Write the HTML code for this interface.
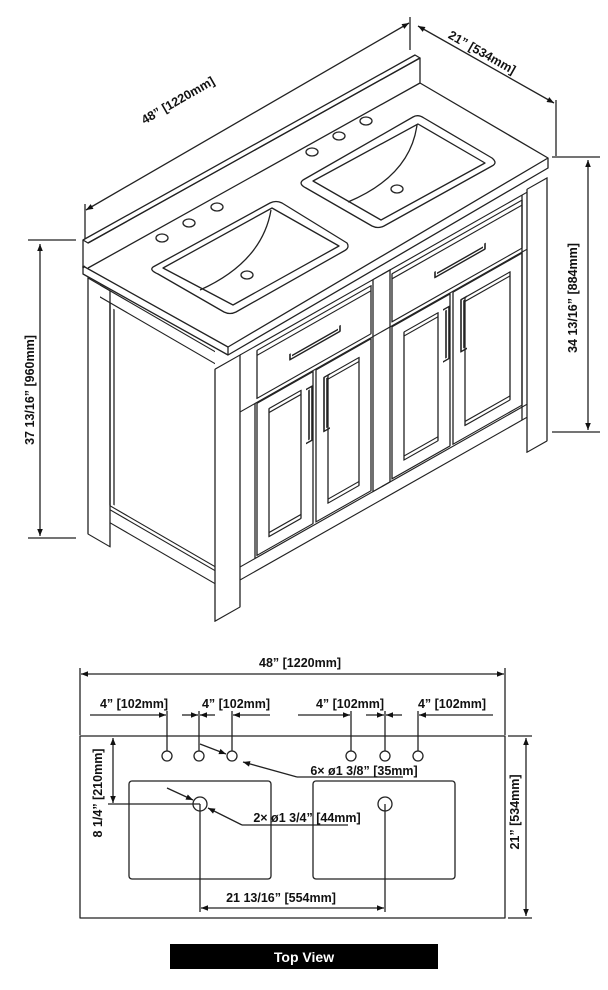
<!DOCTYPE html>
<html><head><meta charset="utf-8"><style>
html,body{margin:0;padding:0;background:#fff;}
svg{display:block;}
text{font-family:"Liberation Sans",sans-serif;font-weight:bold;fill:#111;}
</style></head><body>
<svg width="608" height="990" viewBox="0 0 608 990" xmlns="http://www.w3.org/2000/svg">
<defs>
<marker id="a" viewBox="0 0 10 10" refX="10" refY="5" markerWidth="9" markerHeight="7" orient="auto-start-reverse" markerUnits="userSpaceOnUse"><path d="M0,1 L10,5 L0,9 z" fill="#111"/></marker>
</defs>
<g fill="none" stroke="#222" stroke-width="1.3" stroke-linejoin="round">
<line x1="86" y1="210" x2="409" y2="23" marker-start="url(#a)" marker-end="url(#a)"/>
<line x1="85" y1="204" x2="85" y2="240"/>
<line x1="410" y1="17" x2="410" y2="50"/>
<line x1="418" y1="26" x2="554" y2="103" marker-start="url(#a)" marker-end="url(#a)"/>
<line x1="556" y1="100" x2="556" y2="156"/>
<line x1="40" y1="244" x2="40" y2="536" marker-start="url(#a)" marker-end="url(#a)"/>
<line x1="28" y1="240" x2="76" y2="240"/>
<line x1="28" y1="538" x2="76" y2="538"/>
<line x1="588" y1="160" x2="588" y2="430" marker-start="url(#a)" marker-end="url(#a)"/>
<line x1="552" y1="157" x2="600" y2="157"/>
<line x1="552" y1="432" x2="600" y2="432"/>
<path d="M83,240 L415,55 L420,58 L88,243 Z" fill="#fff"/>
<path d="M88,243 L420,58 L420,83 L88,268"/>
<line x1="83" y1="240" x2="83" y2="268"/>
<path d="M83,268 L85,266 M420,83 L548,158 L228,347 L83,266"/>
<path d="M83,266 L83,274 L228,355 L548,168 L548,158"/>
<line x1="228" y1="347" x2="228" y2="355"/>
<path d="M153,267 L270,203 Q276,200 282,203 L347,243 Q350,248 344,251 L236,312 Q230,315 224,312 L158,274 Q149,270 153,267 Z"/>
<path d="M163,268 L272,208 L339,246 L233,305 Z"/>
<path d="M271,210 Q262,262 200,290"/>
<ellipse cx="162" cy="238" rx="6" ry="4"/><ellipse cx="189" cy="223" rx="6" ry="4"/><ellipse cx="217" cy="207" rx="6" ry="4"/><ellipse cx="247" cy="275" rx="6" ry="4"/>
<path d="M303,180 L413,117 Q418,114 424,118 L492,158 Q498,163 492,166 L384,226 Q378,229 372,226 L306,188 Q298,184 303,180 Z"/>
<path d="M313,181 L418,124 L485,163 L381,220 Z"/>
<path d="M417,125 Q410,176 348,202"/>
<ellipse cx="312" cy="152" rx="6" ry="4"/><ellipse cx="339" cy="136" rx="6" ry="4"/><ellipse cx="366" cy="121" rx="6" ry="4"/><ellipse cx="397" cy="189" rx="6" ry="4"/>
<g transform="matrix(1,0.58,0,1,88,278)">
<rect x="0" y="0" width="22" height="256" fill="#fff"/>
<line x1="12" y1="0" x2="127" y2="0"/>
<line x1="12" y1="12" x2="127" y2="12"/>
<line x1="22" y1="12" x2="22" y2="215"/>
<line x1="26" y1="16" x2="26" y2="212"/>
<line x1="22" y1="215" x2="127" y2="215"/>
<line x1="22" y1="219" x2="127" y2="219"/>
<line x1="22" y1="232" x2="127" y2="232"/>
</g>
<g transform="matrix(1,-0.567,0,1,240,355)">
<rect x="-25" y="0" width="25" height="252" fill="#fff"/>
<rect x="287" y="-3" width="20" height="263" fill="#fff"/>
<line x1="0" y1="225" x2="287" y2="225"/>
<line x1="0" y1="0" x2="287" y2="0"/>
<rect x="17" y="5" width="114" height="48"/>
<line x1="17" y1="10" x2="131" y2="10"/>
<rect x="133" y="0" width="17" height="212"/>
<rect x="152" y="5" width="130" height="48"/>
<line x1="152" y1="10" x2="282" y2="10"/>
<line x1="0" y1="57" x2="287" y2="57"/>
<line x1="282" y1="0" x2="282" y2="225"/>
<line x1="15" y1="57" x2="15" y2="212"/>
<line x1="0" y1="212" x2="287" y2="212"/>
<rect x="17" y="58" width="56" height="152"/>
<rect x="29" y="70" width="32" height="128"/><line x1="29" y1="74" x2="61" y2="74"/><line x1="29" y1="194" x2="61" y2="194"/>
<rect x="76" y="58" width="55" height="152"/>
<rect x="88" y="70" width="31" height="128"/><line x1="88" y1="74" x2="119" y2="74"/><line x1="88" y1="194" x2="119" y2="194"/>
<rect x="152" y="58" width="58" height="152"/>
<rect x="164" y="70" width="34" height="128"/><line x1="164" y1="74" x2="198" y2="74"/><line x1="164" y1="194" x2="198" y2="194"/>
<rect x="213" y="58" width="69" height="152"/>
<rect x="225" y="70" width="45" height="128"/><line x1="225" y1="74" x2="270" y2="74"/><line x1="225" y1="194" x2="270" y2="194"/>
<path d="M50,27 L50,33 L100,33 L100,27 M52,30 L98,30" stroke-width="1.6"/>
<path d="M195,27 L195,33 L245,33 L245,27 M197,30 L243,30" stroke-width="1.6"/>
<path d="M66,72 L72,72 L72,126 L66,126 M69,74 L69,124" stroke-width="1.6"/>
<path d="M90,70 L84,70 L84,124 L90,124 M87,72 L87,122" stroke-width="1.6"/>
<path d="M203,70 L209,70 L209,122 L203,122 M206,72 L206,120" stroke-width="1.6"/>
<path d="M227,70 L221,70 L221,122 L227,122 M224,72 L224,120" stroke-width="1.6"/>
</g>
<line x1="81" y1="674" x2="504" y2="674" marker-start="url(#a)" marker-end="url(#a)"/>
<line x1="80" y1="668" x2="80" y2="735"/><line x1="505" y1="668" x2="505" y2="735"/>
<line x1="90" y1="715" x2="166" y2="715" marker-end="url(#a)"/>
<line x1="270" y1="715" x2="233" y2="715" marker-end="url(#a)"/>
<line x1="182" y1="715" x2="198" y2="715" marker-end="url(#a)"/>
<line x1="215" y1="715" x2="200" y2="715" marker-end="url(#a)"/>
<line x1="298" y1="715" x2="350" y2="715" marker-end="url(#a)"/>
<line x1="366" y1="715" x2="384" y2="715" marker-end="url(#a)"/>
<line x1="402" y1="715" x2="386" y2="715" marker-end="url(#a)"/>
<line x1="493" y1="715" x2="419" y2="715" marker-end="url(#a)"/>
<line x1="167" y1="711" x2="167" y2="756"/><line x1="199" y1="711" x2="199" y2="756"/><line x1="232" y1="711" x2="232" y2="756"/>
<line x1="351" y1="711" x2="351" y2="756"/><line x1="385" y1="711" x2="385" y2="756"/><line x1="418" y1="711" x2="418" y2="756"/>
<rect x="80" y="736" width="425" height="182"/>
<circle cx="167" cy="756" r="5" fill="#fff"/><circle cx="199" cy="756" r="5" fill="#fff"/><circle cx="232" cy="756" r="5" fill="#fff"/>
<circle cx="351" cy="756" r="5" fill="#fff"/><circle cx="385" cy="756" r="5" fill="#fff"/><circle cx="418" cy="756" r="5" fill="#fff"/>
<rect x="129" y="781" width="142" height="98" rx="3"/>
<rect x="313" y="781" width="142" height="98" rx="3"/>
<circle cx="200" cy="804" r="7"/><circle cx="385" cy="804" r="7"/>
<line x1="113" y1="738" x2="113" y2="803" marker-start="url(#a)" marker-end="url(#a)"/>
<line x1="108" y1="804" x2="200" y2="804"/>
<line x1="526" y1="738" x2="526" y2="916" marker-start="url(#a)" marker-end="url(#a)"/>
<line x1="508" y1="736" x2="532" y2="736"/><line x1="508" y1="918" x2="532" y2="918"/>
<line x1="200" y1="744" x2="226" y2="754" marker-end="url(#a)"/>
<line x1="297" y1="777" x2="243" y2="762" marker-end="url(#a)"/>
<line x1="297" y1="777" x2="403" y2="777"/>
<line x1="167" y1="788" x2="193" y2="800" marker-end="url(#a)"/>
<line x1="242" y1="825" x2="208" y2="808" marker-end="url(#a)"/>
<line x1="242" y1="825" x2="348" y2="825"/>
<line x1="200" y1="804" x2="200" y2="912"/><line x1="385" y1="804" x2="385" y2="912"/>
<line x1="201" y1="908" x2="384" y2="908" marker-start="url(#a)" marker-end="url(#a)"/>
</g>
<text x="180" y="104" font-size="12.5" text-anchor="middle" transform="rotate(-30 180 104)">48” [1220mm]</text>
<text x="480" y="56" font-size="12.5" text-anchor="middle" transform="rotate(29.5 480 56)">21” [534mm]</text>
<text x="34" y="390" font-size="12.5" text-anchor="middle" transform="rotate(-90 34 390)">37 13/16” [960mm]</text>
<text x="577" y="298" font-size="12.5" text-anchor="middle" transform="rotate(-90 577 298)">34 13/16” [884mm]</text>
<text x="300" y="667" font-size="12.5" text-anchor="middle">48” [1220mm]</text>
<text x="134" y="708" font-size="12.5" text-anchor="middle">4” [102mm]</text>
<text x="236" y="708" font-size="12.5" text-anchor="middle">4” [102mm]</text>
<text x="350" y="708" font-size="12.5" text-anchor="middle">4” [102mm]</text>
<text x="452" y="708" font-size="12.5" text-anchor="middle">4” [102mm]</text>
<text x="364" y="775" font-size="12.5" text-anchor="middle">6× ø1 3/8” [35mm]</text>
<text x="307" y="822" font-size="12.5" text-anchor="middle">2× ø1 3/4” [44mm]</text>
<text x="102" y="793" font-size="12.5" text-anchor="middle" transform="rotate(-90 102 793)">8 1/4” [210mm]</text>
<text x="519" y="812" font-size="12.5" text-anchor="middle" transform="rotate(-90 519 812)">21” [534mm]</text>
<text x="281" y="902" font-size="12.5" text-anchor="middle">21 13/16” [554mm]</text>
<rect x="170" y="944" width="268" height="25" fill="#000"/>
<text x="304" y="962" font-size="14" text-anchor="middle" style="fill:#fff">Top View</text>
</svg>
</body></html>
